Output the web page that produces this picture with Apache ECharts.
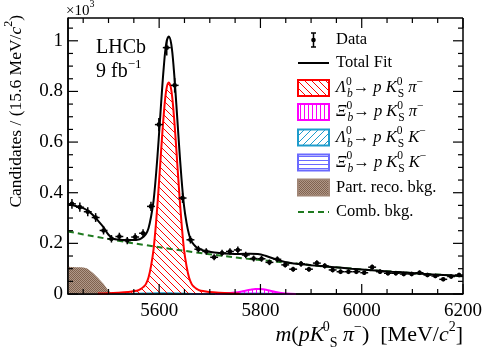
<!DOCTYPE html>
<html>
<head>
<meta charset="utf-8">
<script src="https://cdn.jsdelivr.net/npm/echarts@6/dist/echarts.min.js"></script>
</head>
<body style="margin:0">
<div id="main" style="width:488px;height:351px"></div>
<script>
// 50 bins of 15.6 MeV between 5420 and 6200, counts in units of 10^3
var binLow = 5420, binWidth = 15.6;
var dataValues = [0.356, 0.343, 0.325, 0.302, 0.251, 0.218, 0.227, 0.211, 0.225, 0.240,
                  0.346, 0.669, 0.973, 0.824, 0.379, 0.214, 0.177, 0.168, 0.145, 0.162,
                  0.168, 0.174, 0.154, 0.140, 0.139, 0.125, 0.137, 0.115, 0.098, 0.119,
                  0.098, 0.122, 0.111, 0.095, 0.088, 0.088, 0.088, 0.084, 0.106, 0.088,
                  0.082, 0.082, 0.079, 0.079, 0.084, 0.075, 0.071, 0.058, 0.069, 0.075];

var fitMass = [5420, 5430, 5440, 5450, 5460, 5470, 5480, 5490, 5500, 5510, 5520, 5530, 5540, 5550,
               5559, 5564, 5569, 5574, 5579, 5584, 5589, 5594, 5599, 5604, 5609, 5614, 5619, 5624,
               5629, 5634, 5639, 5644, 5649, 5654, 5659, 5664, 5669, 5674, 5679, 5689, 5699, 5719,
               5739, 5759, 5780, 5795, 5810, 5830, 5860, 5900, 5940, 5980, 6020, 6060, 6100, 6140, 6180, 6200];
var fitValues = [0.355, 0.350, 0.345, 0.339, 0.328, 0.310, 0.288, 0.264, 0.234, 0.218, 0.215, 0.213, 0.213, 0.213,
                 0.215, 0.219, 0.226, 0.237, 0.260, 0.305, 0.369, 0.476, 0.609, 0.757, 0.893, 0.990, 1.017, 0.986,
                 0.886, 0.747, 0.597, 0.459, 0.350, 0.282, 0.235, 0.208, 0.194, 0.184, 0.178, 0.171, 0.167, 0.162,
                 0.159, 0.158, 0.159, 0.158, 0.151, 0.137, 0.122, 0.114, 0.107, 0.100, 0.094, 0.088, 0.083, 0.077, 0.073, 0.070];

var signalMass = [5479, 5499, 5519, 5539, 5549, 5559, 5564, 5569, 5574, 5579, 5584, 5589, 5594, 5599, 5604, 5609, 5614,
                  5619, 5624, 5629, 5634, 5639, 5644, 5649, 5654, 5659, 5664, 5669, 5674, 5679, 5689, 5699, 5719, 5739, 5759];
var signalValues = [0.002, 0.003, 0.005, 0.008, 0.011, 0.015, 0.020, 0.028, 0.040, 0.065, 0.111, 0.177, 0.285, 0.420, 0.569, 0.707, 0.805,
                    0.835, 0.805, 0.707, 0.569, 0.420, 0.285, 0.177, 0.111, 0.065, 0.040, 0.028, 0.020, 0.015, 0.011, 0.008, 0.005, 0.003, 0.002];

var combMass = [5420, 5470, 5520, 5570, 5620, 5670, 5720, 5770, 5820, 5870, 5920, 5970, 6020, 6070, 6120, 6170, 6200];
var combValues = [0.247, 0.228, 0.210, 0.194, 0.179, 0.165, 0.152, 0.140, 0.130, 0.120, 0.110, 0.102, 0.094, 0.087, 0.080, 0.074, 0.070];

var partRecoMass = [5420, 5430, 5440, 5450, 5455, 5460, 5465, 5470, 5475, 5480, 5485, 5490, 5495, 5500, 5505, 5510];
var partRecoValues = [0.108, 0.107, 0.106, 0.105, 0.103, 0.098, 0.090, 0.082, 0.072, 0.062, 0.051, 0.040, 0.027, 0.014, 0.005, 0];

var xibPiMass = [5710, 5730, 5750, 5765, 5780, 5790, 5797, 5805, 5815, 5830, 5850, 5870];
var xibPiValues = [0, 0.002, 0.006, 0.011, 0.017, 0.020, 0.020, 0.019, 0.015, 0.008, 0.002, 0];

var lbKMass = [5500, 5540, 5570, 5600, 5620, 5640, 5670, 5700];
var lbKValues = [0, 0.001, 0.003, 0.004, 0.004, 0.003, 0.001, 0];

var xibKMass = [5660, 5700, 5730, 5760, 5790, 5820, 5860];
var xibKValues = [0, 0.002, 0.003, 0.003, 0.003, 0.002, 0];

var xTicks = [5600, 5800, 6000, 6200];
var yTicks = [0, 0.2, 0.4, 0.6, 0.8, 1];

var serif = 'Liberation Serif';
var xMin = 5420, xMax = 6200, yMax = 1.09;

function pairs(ms, vs) { return ms.map(function (m, i) { return [m, vs[i]]; }); }

// fill patterns
function tile(w, h, draw) {
    var c = document.createElement('canvas');
    c.width = w; c.height = h;
    draw(c.getContext('2d'), w, h);
    return { image: c, repeat: 'repeat' };
}
function diag(color, back) {
    return tile(7, 7, function (g, s) {
        g.strokeStyle = color; g.lineWidth = 1; g.beginPath();
        [-s, 0, s].forEach(function (q) {
            if (back) { g.moveTo(q, 0); g.lineTo(q + s, s); }
            else { g.moveTo(q, s); g.lineTo(q + s, 0); }
        });
        g.stroke();
    });
}
var redFill = diag('#ff0000', true);
var cyanFill = diag('#1e9ccc', false);
var magFill = tile(4, 4, function (g) { g.fillStyle = '#ff00ff'; g.fillRect(0, 0, 1, 4); });
var blueFill = tile(4, 4, function (g) { g.fillStyle = '#6a6aff'; g.fillRect(0, 0, 4, 1); });
var brownFill = tile(2, 2, function (g) {
    g.fillStyle = '#b09888'; g.fillRect(0, 0, 2, 2);
    g.fillStyle = '#80624f'; g.fillRect(0, 0, 1, 1); g.fillRect(1, 1, 1, 1);
});

function richSet(size, small) {
    return {
        n: { fontFamily: serif, fontSize: size, lineHeight: size + 8, color: '#000' },
        i: { fontFamily: serif, fontStyle: 'italic', fontSize: size, lineHeight: size + 8, color: '#000' },
        sp: { fontFamily: serif, fontSize: small, lineHeight: small, verticalAlign: 'top', color: '#000' },
        spz: { fontFamily: serif, fontSize: small, lineHeight: small, verticalAlign: 'top', width: 1, color: '#000' },
        sb: { fontFamily: serif, fontStyle: 'italic', fontSize: small, lineHeight: small, verticalAlign: 'bottom', color: '#000' },
        sbn: { fontFamily: serif, fontSize: small, lineHeight: small, verticalAlign: 'bottom', color: '#000' }
    };
}

var myChart = echarts.init(document.getElementById('main'));

// frame ticks (inside, mirrored on top/right) drawn by a custom series through the axes' scales
var xMinorTicks = [], yMinorTicks = [];
for (var t = 5450; t < xMax; t += 50) if (t % 200 !== 0) xMinorTicks.push(t);
for (var k = 1; k <= 21; k++) if (k % 4 !== 0) yMinorTicks.push(k * 0.05);
var frameItems = [[xMin, 0, 2, 0]];
xTicks.forEach(function (v) { frameItems.push([v, 0, 0, 10]); });
xMinorTicks.forEach(function (v) { frameItems.push([v, 0, 0, 5]); });
yTicks.forEach(function (v) { frameItems.push([xMin, v, 1, 10]); });
yMinorTicks.forEach(function (v) { frameItems.push([xMin, v, 1, 5]); });

function renderFrame(params, api) {
    var kind = api.value(2), len = api.value(3);
    var lb = api.coord([xMin, 0]), rt = api.coord([xMax, yMax]);
    var left = lb[0], bot = lb[1], right = rt[0], top = rt[1];
    var st = { stroke: '#000', lineWidth: 1.2 };
    function ln(x1, y1, x2, y2, w) {
        return { type: 'line', shape: { x1: x1, y1: y1, x2: x2, y2: y2 }, style: { stroke: '#000', lineWidth: w || 1.2 } };
    }
    if (kind === 2) {
        return { type: 'group', children: [
            ln(left, top, right, top, 1.5), ln(right, top, right, bot, 1.5),
            ln(left, top, left, bot, 1.5), ln(left, bot, right, bot, 1.5)
        ] };
    }
    var p = api.coord([api.value(0), api.value(1)]);
    if (kind === 0) {
        return { type: 'group', children: [ln(p[0], bot, p[0], bot - len), ln(p[0], top, p[0], top + len)] };
    }
    return { type: 'group', children: [ln(left, p[1], left + len, p[1]), ln(right, p[1], right - len, p[1])] };
}

var dataPoints = dataValues.map(function (v, i) {
    return [binLow + binWidth * (i + 0.5), v, Math.sqrt(v * 1000) / 1000];
});

function renderErr(params, api) {
    var m = api.value(0), v = api.value(1), e = api.value(2);
    var c = api.coord([m, v]);
    var t = api.coord([m, v + e]), b = api.coord([m, v - e]);
    var l = api.coord([m - binWidth / 2, v]), r = api.coord([m + binWidth / 2, v]);
    var st = { stroke: '#000', lineWidth: 1.5 };
    return {
        type: 'group', children: [
            { type: 'line', shape: { x1: t[0], y1: t[1], x2: b[0], y2: b[1] }, style: st },
            { type: 'line', shape: { x1: l[0], y1: l[1], x2: r[0], y2: r[1] }, style: st },
            { type: 'circle', shape: { cx: c[0], cy: c[1], r: 2.3 }, style: { fill: '#000' } }
        ]
    };
}

// legend and titles drawn with graphic elements
var legendX = 298, legendW = 31, textX = 336;
var legendRows = [
    { kind: 'data', text: '{n|Data}', y: 40 },
    { kind: 'line', color: '#000', text: '{n|Total Fit}', y: 63 },
    { kind: 'box', color: '#ff0000', fill: redFill, text: '{i|Λ}{spz|0}{sb|b}{n|→ }{i|p K}{spz|0}{sbn|S}{i| π}{sp|−}', y: 88 },
    { kind: 'box', color: '#ff00ff', fill: magFill, text: '{i|Ξ}{spz|0}{sb|b}{n|→ }{i|p K}{spz|0}{sbn|S}{i| π}{sp|−}', y: 112 },
    { kind: 'box', color: '#1e9ccc', fill: cyanFill, text: '{i|Λ}{spz|0}{sb|b}{n|→ }{i|p K}{spz|0}{sbn|S}{i| K}{sp|−}', y: 137.5 },
    { kind: 'box', color: '#6a6aff', fill: blueFill, text: '{i|Ξ}{spz|0}{sb|b}{n|→ }{i|p K}{spz|0}{sbn|S}{i| K}{sp|−}', y: 162.5 },
    { kind: 'box', color: '#a08575', fill: brownFill, text: '{n|Part. reco. bkg.}', y: 187.5 },
    { kind: 'dash', color: '#1f7a1f', text: '{n|Comb. bkg.}', y: 212 }
];
var legendRich = richSet(16.5, 11.5);
var graphics = [];
legendRows.forEach(function (row) {
    var cx = legendX + legendW / 2;
    if (row.kind === 'data') {
        graphics.push({ type: 'line', shape: { x1: cx, y1: row.y - 7, x2: cx, y2: row.y + 7 }, style: { stroke: '#000', lineWidth: 1.5 } });
        graphics.push({ type: 'line', shape: { x1: cx - 2.5, y1: row.y - 7, x2: cx + 2.5, y2: row.y - 7 }, style: { stroke: '#000', lineWidth: 1.5 } });
        graphics.push({ type: 'line', shape: { x1: cx - 2.5, y1: row.y + 7, x2: cx + 2.5, y2: row.y + 7 }, style: { stroke: '#000', lineWidth: 1.5 } });
        graphics.push({ type: 'circle', shape: { cx: cx, cy: row.y, r: 2.3 }, style: { fill: '#000' } });
    } else if (row.kind === 'line' || row.kind === 'dash') {
        graphics.push({ type: 'line', shape: { x1: legendX, y1: row.y, x2: legendX + legendW, y2: row.y },
            style: { stroke: row.color, lineWidth: 2, lineDash: row.kind === 'dash' ? [6, 4] : null } });
    } else {
        graphics.push({ type: 'rect', shape: { x: legendX, y: row.y - 8, width: legendW, height: 16 },
            style: { fill: row.fill, stroke: row.color, lineWidth: 2 } });
    }
    graphics.push({ type: 'text', x: textX, y: row.y, style: { text: row.text, rich: legendRich, verticalAlign: 'middle', align: 'left' } });
});
graphics.push({ type: 'text', x: 66, y: 11, style: { text: '{n|×10}{sp|3}', rich: richSet(15, 10), verticalAlign: 'middle' } });
graphics.push({ type: 'text', x: 96, y: 48, style: { text: '{n|LHCb}', rich: richSet(20, 13), verticalAlign: 'middle' } });
graphics.push({ type: 'text', x: 96, y: 72, style: { text: '{n|9 fb}{sp|−1}', rich: richSet(20, 13), verticalAlign: 'middle' } });
// axis titles
graphics.push({ type: 'text', x: 463, y: 335, style: {
    text: '{i|m}{n|(}{i|pK\u2009}{spz|0}{sbn|S}{i| π}{sp|−}{n|)  [MeV/}{i|c}{sp|2}{n|]}',
    rich: richSet(22, 14), align: 'right', verticalAlign: 'middle' } });
graphics.push({ type: 'text', x: 16, y: 15, rotation: Math.PI / 2, style: {
    text: '{n|Candidates / (15.6 MeV/}{i|c}{sp|2}{n|)}',
    rich: richSet(17.5, 12), align: 'right', verticalAlign: 'middle' } });

function areaSeries(name, ms, vs, color, fill, width, z) {
    return {
        name: name, type: 'line', data: pairs(ms, vs), showSymbol: false, smooth: 0.35, z: z,
        lineStyle: { color: color, width: width },
        areaStyle: { color: fill, opacity: 1 }
    };
}

var option = {
    animation: false,
    backgroundColor: '#fff',
    grid: { left: 68, right: 25, top: 18, bottom: 57 },
    xAxis: {
        type: 'value', min: xMin, max: xMax,
        axisLine: { show: true, onZero: false, lineStyle: { color: '#000', width: 1.5 } },
        axisTick: { show: false },
        axisLabel: { show: true, customValues: xTicks, margin: 8, fontFamily: serif, fontSize: 19, color: '#000',
                     formatter: function (v) { return String(v); } },
        splitLine: { show: false }
    },
    yAxis: {
        type: 'value', min: 0, max: yMax, interval: 0.2,
        axisLine: { show: true, onZero: false, lineStyle: { color: '#000', width: 1.5 } },
        axisTick: { show: false },
        axisLabel: { show: true, showMaxLabel: false, margin: 5, fontFamily: serif, fontSize: 19, color: '#000',
                     formatter: function (v) { return String(v); } },
        splitLine: { show: false }
    },
    graphic: graphics,
    series: [
        areaSeries('Part. reco. bkg.', partRecoMass, partRecoValues, '#a08575', brownFill, 0, 1),
        areaSeries('Lb pKsK', lbKMass, lbKValues, '#1e9ccc', cyanFill, 1.5, 2),
        areaSeries('Xib pKsK', xibKMass, xibKValues, '#6a6aff', blueFill, 1.5, 2),
        areaSeries('Xib pKspi', xibPiMass, xibPiValues, '#ff00ff', magFill, 2, 3),
        areaSeries('Lb pKspi', signalMass, signalValues, '#ff0000', redFill, 2, 4),
        {
            name: 'Comb. bkg.', type: 'line', data: pairs(combMass, combValues), showSymbol: false, smooth: 0.35, z: 5,
            lineStyle: { color: '#1f7a1f', width: 2, type: [6, 4] }
        },
        {
            name: 'Total Fit', type: 'line', data: pairs(fitMass, fitValues), showSymbol: false, smooth: 0.35, z: 6,
            lineStyle: { color: '#000', width: 2 }
        },
        {
            name: 'Data', type: 'custom', data: dataPoints, renderItem: renderErr, z: 7,
            encode: { x: 0, y: 1 }
        },
        {
            name: 'frame', type: 'custom', data: frameItems, renderItem: renderFrame, z: 8, silent: true, clip: false,
            encode: { x: 0, y: 1 }
        }
    ]
};
myChart.setOption(option);
</script>
</body>
</html>
